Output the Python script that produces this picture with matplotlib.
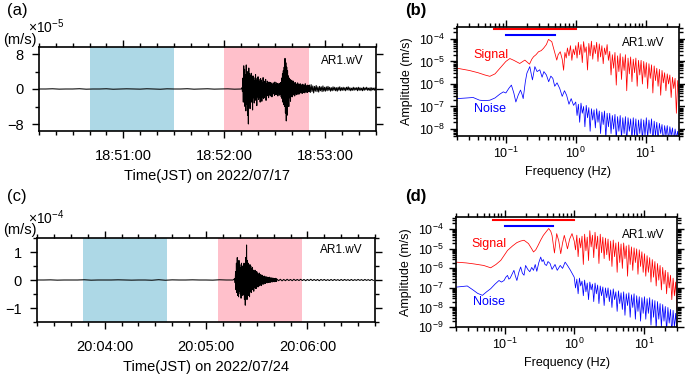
import numpy as np
import matplotlib
matplotlib.use("Agg")
import matplotlib.pyplot as plt
import matplotlib.transforms as mtransforms
from matplotlib.ticker import MultipleLocator, FixedLocator, LogLocator, NullFormatter

plt.rcParams['font.family'] = ['Liberation Sans', 'DejaVu Sans']
plt.rcParams['mathtext.fontset'] = 'custom'
plt.rcParams['mathtext.rm'] = 'Liberation Sans'
plt.rcParams['mathtext.it'] = 'Liberation Sans:italic'

# ---------------- waveform data (velocity) ----------------
# event 1: seconds after 18:50:00, amplitude in 1e-5 m/s
ev1_date = "2022/07/17"
ev1_tick_sec = [60, 120, 180]
ev1_tick_lab = ["18:51:00", "18:52:00", "18:53:00"]
ev1_xlim = (10, 210)
ev1_noise_win = (40, 90)
ev1_signal_win = (120, 170)
ev1_pre_t0, ev1_pre_dt = 10.0, 4.0
ev1_pre = [0.0, 0.0, 0.05, -0.03, 0.0, 0.0, 0.06, -0.04, 0.0, 0.0, 0.05, -0.05, 0.0, 0.04, 0.0, -0.03,
           0.05, 0.0, -0.05, 0.04, 0.0, 0.0, 0.06, -0.04, 0.0, 0.05, -0.03, 0.0, 0.04, -0.04, 0.0]
ev1_burst_t0, ev1_burst_dt = 130.5, 0.25
ev1_burst = [0.3, -0.6, 2.5, -3.0, 5.3, -2.5, 4.5, -4.0, 3.2, -5.0, 5.5, -3.5, 4.0, -6.0, 3.0, -8.0, 4.8, -3.0, 3.5, -4.5,
             3.0, -2.5, 3.6, -3.0, 2.2, -4.8, 3.0, -2.0, 2.6, -3.2, 1.8, -2.6, 3.3, -2.2, 2.0, -3.8, 2.5, -1.8, 2.8, -2.4,
             2.2, -2.0, 1.6, -3.0, 2.4, -1.5, 2.0, -2.8, 1.4, -1.8, 2.6, -2.2, 1.5, -2.0, 1.8, -1.4, 2.2, -2.6, 1.2, -1.6,
             1.8, -1.4, 1.2, -2.0, 1.6, -1.2, 1.0, -1.6, 1.5, -1.1, 1.3, -1.8, 0.9, -1.2, 1.4, -1.0, 1.1, -1.5, 1.6, -1.2,
             1.0, -1.3, 1.4, -1.0, 1.2, -1.6, 0.9, -1.1, 1.3, -1.4, 1.0, -1.2, 1.5, -1.8, 2.5, -2.2, 3.5, -3.0, 4.2, -3.6,
             5.0, -4.0, 7.0, -5.5, 6.0, -7.3, 5.0, -6.0, 4.2, -3.5, 3.0, -4.0, 2.5, -2.0, 2.2, -2.8, 1.8, -1.6, 2.0, -1.8,
             1.6, -1.4, 1.8, -1.2, 1.3, -1.6, 1.5, -1.1, 1.2, -1.3, 1.0, -1.2, 1.4, -0.9, 1.1, -1.2, 0.9, -1.0, 1.2, -0.8,
             1.0, -0.9, 0.8, -1.0, 1.1, -0.7, 0.9, -0.8, 0.7, -0.9, 1.2, -0.6, 0.8, -0.7, 0.6, -0.8, 0.9, -0.6, 0.7, -0.6]
ev1_tail_t0, ev1_tail_dt = 170.5, 0.5
ev1_tail = [0.9, -0.8, 1.0, -0.6, 0.7, -0.9, 0.6, -0.5, 0.8, -0.6, 0.5, -0.7, 0.6, -0.4, 0.5, -0.6, 0.7, -0.5, 0.4, -0.5,
            0.5, -0.4, 0.6, -0.3, 0.4, -0.5, 0.3, -0.4, 0.5, -0.3, 0.4, -0.4, 0.3, -0.5, 0.4, -0.3, 0.5, -0.4, 0.3, -0.3,
            0.4, -0.3, 0.3, -0.4, 0.4, -0.2, 0.5, -0.3, 0.3, -0.4, 0.2, -0.3, 0.4, -0.3, 0.3, -0.2, 0.3, -0.4, 0.4, -0.3,
            0.3, -0.3, 0.2, -0.4, 0.4, -0.3, 0.3, -0.2, 0.4, -0.3, 0.2, -0.3, 0.3, -0.4, 0.3, -0.2, 0.2, -0.3, 0.3, -0.2]

# event 2: seconds after 20:03:00, amplitude in 1e-4 m/s
ev2_date = "2022/07/24"
ev2_tick_sec = [60, 120, 180]
ev2_tick_lab = ["20:04:00", "20:05:00", "20:06:00"]
ev2_xlim = (20, 220)
ev2_noise_win = (47, 97)
ev2_signal_win = (127, 177)
ev2_pre_t0, ev2_pre_dt = 20.0, 4.0
ev2_pre = [0.0, 0.0, 0.005, -0.005, 0.0, 0.0, 0.0, 0.008, -0.006, 0.0, 0.0, 0.0, 0.006, 0.0, -0.005,
           0.0, 0.0, -0.008, 0.01, -0.008, 0.005, 0.0, 0.0, 0.006, 0.0, 0.0, -0.005, 0.008, 0.0, 0.0]
ev2_burst_t0, ev2_burst_dt = 137.0, 0.25
ev2_burst = [0.05, -0.1, 0.3, -0.35, 0.6, -0.45, 0.8, -0.55, 0.5, -0.6, 0.7, -0.4, 0.55, -0.5, 0.45, -0.65, 0.6, -0.4, 0.5, -0.55,
             0.4, -0.5, 0.6, -0.7, 0.5, -0.9, 0.8, -0.6, 1.25, -0.7, 0.7, -0.5, 0.6, -0.55, 0.45, -0.6, 0.55, -0.4, 0.5, -0.45,
             0.4, -0.35, 0.45, -0.3, 0.35, -0.4, 0.3, -0.25, 0.35, -0.3, 0.25, -0.3, 0.3, -0.2, 0.25, -0.25, 0.2, -0.22, 0.25, -0.18,
             0.2, -0.18, 0.15, -0.2, 0.18, -0.14, 0.15, -0.15, 0.12, -0.14, 0.14, -0.1, 0.1, -0.12, 0.12, -0.09, 0.09, -0.1, 0.1, -0.08,
             0.08, -0.09, 0.1, -0.07, 0.07, -0.08, 0.08, -0.06, 0.06, -0.07, 0.07, -0.05, 0.06, -0.06, 0.05, -0.06, 0.06, -0.04, 0.05, -0.05]
ev2_tail_t0, ev2_tail_dt = 162.0, 1.0
ev2_tail = [0.03, -0.025, 0.025, -0.03, 0.02, -0.025, 0.025, -0.02, 0.02, -0.025, 0.025, -0.02, 0.02, -0.02, 0.025, -0.02,
            0.02, -0.025, 0.02, -0.02, 0.025, -0.02, 0.02, -0.02, 0.02, -0.025, 0.02, -0.015, 0.02, -0.02, 0.015, -0.02,
            0.02, -0.02, 0.02, -0.015, 0.015, -0.02, 0.02, -0.02, 0.02, -0.015, 0.015, -0.02, 0.02, -0.02, 0.015, -0.015,
            0.02, -0.015, 0.015, -0.02, 0.02, -0.015, 0.015, -0.02, 0.02, -0.015]

# ---------------- spectra (log10 amplitude in m/s) ----------------
station = "AR1.wV"
signal_band = (0.067, 1.0)
noise_band = (0.1, 0.5)

# event 1, below 1 Hz
sig1_f = [0.020, 0.030, 0.040, 0.050, 0.059, 0.070, 0.085, 0.100, 0.114, 0.130, 0.158, 0.187, 0.218, 0.235, 0.249,
          0.270, 0.293, 0.320, 0.345, 0.380, 0.407, 0.454, 0.500, 0.535, 0.560, 0.600, 0.640, 0.670, 0.700, 0.730,
          0.760, 0.800, 0.840, 0.880, 0.920, 0.960]
sig1_lo = [-5.30, -5.40, -5.50, -5.60, -5.66, -5.55, -5.25, -5.00, -4.87, -4.95, -5.09, -4.94, -5.12, -4.90, -4.79,
           -4.70, -4.57, -4.52, -4.42, -4.25, -4.02, -4.12, -4.60, -4.94, -4.70, -4.57, -4.90, -5.39, -4.60, -4.85,
           -4.40, -4.75, -4.30, -4.95, -4.45, -4.70]
noi1_f = [0.020, 0.028, 0.034, 0.042, 0.050, 0.059, 0.070, 0.082, 0.092, 0.100, 0.110, 0.120, 0.130, 0.139, 0.150,
          0.162, 0.170, 0.177, 0.190, 0.200, 0.220, 0.240, 0.260, 0.280, 0.306, 0.330, 0.350, 0.380, 0.410, 0.440,
          0.470, 0.500, 0.540, 0.590, 0.640, 0.690, 0.740, 0.800, 0.860, 0.930]
noi1_lo = [-6.65, -6.62, -6.60, -6.72, -6.74, -6.72, -6.62, -6.45, -6.35, -6.40, -6.20, -6.05, -6.40, -6.80, -6.50,
           -6.27, -6.45, -6.65, -5.90, -5.52, -5.23, -5.82, -5.23, -5.45, -5.37, -5.70, -5.45, -5.60, -5.90, -5.65,
           -5.75, -6.10, -5.95, -6.20, -6.55, -6.30, -6.50, -6.90, -6.65, -6.95]
# 1-30 Hz, evenly spaced in log frequency
sig1_hi = [-4.30, -4.85, -4.15, -4.70, -4.25, -5.05, -4.12, -4.60, -4.35, -5.38, -4.20, -4.75, -4.10, -4.90, -4.28, -4.65,
           -4.15, -5.00, -4.22, -4.80, -4.30, -5.10, -4.40, -4.70, -4.25, -4.95,
           -4.55, -5.60, -4.70, -5.30, -4.60, -6.05, -4.75, -5.45, -4.65, -5.80, -4.80, -5.40, -4.70, -6.30, -4.85, -5.55,
           -4.80, -5.90, -4.90, -5.50, -4.85, -6.10, -4.95, -5.60, -4.95, -6.00, -5.00, -5.70,
           -5.05, -6.20, -5.10, -5.75, -5.15, -6.40, -5.20, -5.85, -5.30, -6.10, -5.35, -6.50, -5.40, -5.95, -5.50, -6.30,
           -5.55, -6.00, -5.60, -6.60, -5.70, -6.20, -5.75, -7.30, -5.85, -6.40]
noi1_hi = [-6.80, -7.40, -6.90, -7.70, -6.85, -7.30, -7.00, -7.90, -6.95, -7.50, -7.05, -8.10, -7.10, -7.60, -7.15, -7.95,
           -7.10, -7.70, -7.20, -8.20, -7.25, -7.80, -7.20, -8.40, -7.30, -7.90,
           -7.30, -8.20, -7.40, -8.00, -7.35, -8.50, -7.45, -8.10, -7.40, -8.40, -7.50, -8.20, -7.45, -8.60, -7.50, -8.10,
           -7.55, -8.45, -7.50, -8.30, -7.55, -8.60, -7.60, -8.20, -7.55, -8.50, -7.60, -8.30,
           -7.50, -8.40, -7.60, -8.20, -7.55, -8.60, -7.65, -8.30, -7.70, -8.50, -7.75, -8.20, -7.80, -8.60, -7.85, -8.30,
           -7.85, -8.50, -7.90, -8.30, -7.95, -8.60, -8.00, -8.40, -8.10, -8.60]

# event 2, below 1 Hz
sig2_f = [0.020, 0.028, 0.036, 0.050, 0.063, 0.075, 0.088, 0.100, 0.110, 0.130, 0.150, 0.170, 0.190, 0.220, 0.245,
          0.260, 0.280, 0.300, 0.330, 0.360, 0.400, 0.430, 0.460, 0.480, 0.520, 0.560, 0.600, 0.640, 0.680, 0.720,
          0.760, 0.800, 0.860, 0.930]
sig2_lo = [-5.68, -5.72, -5.77, -5.85, -5.97, -5.80, -5.59, -5.30, -5.08, -4.85, -4.68, -4.60, -4.56, -4.73, -5.00,
           -5.16, -5.05, -4.85, -4.55, -4.31, -4.10, -3.96, -4.10, -4.31, -5.21, -4.22, -4.60, -5.25, -4.70, -4.31,
           -4.65, -5.00, -4.50, -4.22]
noi2_f = [0.020, 0.024, 0.029, 0.035, 0.041, 0.048, 0.055, 0.063, 0.073, 0.083, 0.090, 0.098, 0.104, 0.110, 0.115,
          0.120, 0.128, 0.136, 0.143, 0.150, 0.160, 0.170, 0.180, 0.190, 0.200, 0.215, 0.230, 0.245, 0.260, 0.275,
          0.290, 0.310, 0.330, 0.345, 0.360, 0.380, 0.400, 0.420, 0.450, 0.480, 0.530, 0.570, 0.630, 0.680, 0.740,
          0.800, 0.880, 0.950]
noi2_lo = [-6.96, -6.93, -6.90, -7.10, -7.28, -7.38, -7.20, -7.04, -6.80, -6.62, -6.70, -6.62, -6.45, -6.36, -6.55,
           -6.50, -6.30, -6.10, -6.40, -6.62, -6.20, -5.93, -6.25, -6.35, -5.85, -6.05, -6.17, -5.95, -6.10, -5.80,
           -6.15, -5.70, -5.42, -5.65, -5.55, -5.80, -5.85, -5.65, -5.75, -6.05, -5.80, -6.10, -5.85, -6.00, -5.68,
           -5.85, -6.09, -6.30]
sig2_hi = [-4.60, -5.05, -4.30, -5.40, -4.45, -4.95, -4.35, -5.80, -4.25, -5.10, -4.40, -5.60, -4.07, -4.90, -4.30, -5.45,
           -4.15, -5.00, -4.35, -5.75, -4.25, -5.20, -4.40, -5.50, -4.45, -5.30,
           -4.50, -5.60, -4.60, -5.90, -4.55, -5.40, -4.70, -6.20, -4.65, -5.70, -4.75, -6.00, -4.70, -5.50, -4.85, -6.40,
           -4.80, -5.80, -4.90, -6.10, -4.95, -5.70, -5.00, -6.30, -5.05, -5.90, -5.15, -6.20,
           -5.25, -6.40, -5.35, -6.20, -5.45, -6.70, -5.55, -6.45, -5.65, -6.90, -5.75, -6.60, -5.85, -7.10, -5.95, -6.80,
           -6.10, -7.30, -6.20, -7.00, -6.35, -7.60, -6.50, -7.40, -6.70, -8.10]
noi2_hi = [-6.45, -7.00, -6.55, -7.30, -6.50, -6.90, -6.65, -7.40, -6.60, -7.20, -6.75, -7.60, -6.70, -7.10, -6.80, -7.70,
           -6.75, -7.30, -6.85, -7.80, -6.90, -7.40, -6.95, -7.90, -7.00, -7.50,
           -7.00, -7.70, -7.10, -8.00, -7.05, -7.60, -7.20, -8.20, -7.15, -7.80, -7.25, -8.10, -7.20, -8.40, -7.30, -7.90,
           -7.25, -8.50, -7.35, -8.00, -7.30, -8.60, -7.40, -8.20, -7.45, -8.70, -7.50, -8.30,
           -7.45, -8.60, -7.55, -8.30, -7.50, -8.90, -7.60, -8.50, -7.65, -9.10, -7.70, -8.60, -7.80, -9.00, -7.85, -8.70,
           -7.95, -9.20, -8.00, -8.80, -8.10, -9.30, -8.15, -9.00, -8.30, -9.40]

W, H = 685, 374
fig = plt.figure(figsize=(W / 100, H / 100), dpi=100)


def px_axes(l, t, r, b):
    return fig.add_axes([l / W, 1 - b / H, (r - l) / W, (b - t) / H])


def style(ax):
    for s in ax.spines.values():
        s.set_linewidth(1.2)
    ax.tick_params(which='both', direction='out', top=True, right=True, width=1.0)
    ax.tick_params(which='major', length=5)
    ax.tick_params(which='minor', length=3)


def segment(t0, dt, vals):
    return t0 + dt * np.arange(len(vals)), np.array(vals)


def wave_panel(ax, segs, xlim, ylim, noise_win, signal_win, tick_sec, tick_lab, date, ymaj, ymin, lab_y):
    style(ax)
    ax.axvspan(*noise_win, color='lightblue', lw=0)
    ax.axvspan(*signal_win, color='pink', lw=0)
    t = np.concatenate([s[0] for s in segs])
    v = np.concatenate([s[1] for s in segs])
    ax.plot(t, v, color='black', lw=0.75)
    ax.set_xlim(*xlim)
    ax.set_ylim(*ylim)
    ax.xaxis.set_major_locator(FixedLocator(tick_sec))
    ax.set_xticklabels(tick_lab)
    ax.xaxis.set_minor_locator(MultipleLocator(10))
    ax.yaxis.set_major_locator(MultipleLocator(ymaj))
    ax.yaxis.set_minor_locator(MultipleLocator(ymin))
    ax.tick_params(labelsize=10.5, pad=6)
    ax.tick_params(axis='x', pad=8)
    ax.set_xlabel(f"Time(JST) on {date}", fontsize=10.5, labelpad=4)
    ax.text(0.9, lab_y, station, transform=ax.transAxes, ha='center', va='center', fontsize=8.5)


def spec_panel(ax, curves, ylim, bar_y, lab_pos):
    style(ax)
    ax.set_xscale('log')
    ax.set_yscale('log')
    for f, a, c in curves:
        ax.plot(f, 10.0 ** np.array(a), color=c, lw=0.55)
    ax.set_xlim(0.02, 30)
    ax.set_ylim(*ylim)
    ax.xaxis.set_major_locator(LogLocator(base=10, numticks=10))
    ax.xaxis.set_minor_locator(LogLocator(base=10, subs=np.arange(2, 10), numticks=10))
    ax.xaxis.set_minor_formatter(NullFormatter())
    ax.yaxis.set_major_locator(LogLocator(base=10, numticks=12))
    ax.yaxis.set_minor_locator(LogLocator(base=10, subs=np.arange(2, 10), numticks=12))
    ax.yaxis.set_minor_formatter(NullFormatter())
    ax.tick_params(labelsize=9, pad=4)
    ax.tick_params(axis='x', pad=2)
    trans = mtransforms.blended_transform_factory(ax.transData, ax.transAxes)
    ax.plot(signal_band, [bar_y[0]] * 2, color='red', lw=1.5, transform=trans, clip_on=False)
    ax.plot(noise_band, [bar_y[1]] * 2, color='blue', lw=1.5, transform=trans, clip_on=False)
    ax.set_xlabel("Frequency (Hz)", fontsize=9, labelpad=4)
    ax.set_ylabel("Amplitude (m/s)", fontsize=9, labelpad=4)
    (sx, sy), (nx, ny), (ax_, ay) = lab_pos
    ax.text(sx, sy, "Signal", transform=ax.transAxes, color='red', ha='center', va='center', fontsize=9)
    ax.text(nx, ny, "Noise", transform=ax.transAxes, color='blue', ha='center', va='center', fontsize=9)
    ax.text(ax_, ay, station, transform=ax.transAxes, ha='center', va='center', fontsize=8.5)


# (a)
ax_a = px_axes(39, 47, 376, 131)
wave_panel(ax_a,
           [segment(ev1_pre_t0, ev1_pre_dt, ev1_pre),
            segment(ev1_burst_t0, ev1_burst_dt, ev1_burst),
            segment(ev1_tail_t0, ev1_tail_dt, ev1_tail)],
           ev1_xlim, (-9.6, 9.6), ev1_noise_win, ev1_signal_win,
           ev1_tick_sec, ev1_tick_lab, ev1_date, 8, 4, 0.833)

# (c)
ax_c = px_axes(37, 238, 375, 322)
wave_panel(ax_c,
           [segment(ev2_pre_t0, ev2_pre_dt, ev2_pre),
            segment(ev2_burst_t0, ev2_burst_dt, ev2_burst),
            segment(ev2_tail_t0, ev2_tail_dt, ev2_tail)],
           ev2_xlim, (-1.5, 1.5), ev2_noise_win, ev2_signal_win,
           ev2_tick_sec, ev2_tick_lab, ev2_date, 1, 0.5, 0.857)

# (b)
hi_f = np.geomspace(1.0, 30.0, len(sig1_hi))
ax_b = px_axes(457, 27, 679, 136)
spec_panel(ax_b,
           [(np.r_[sig1_f, hi_f], sig1_lo + sig1_hi, 'red'),
            (np.r_[noi1_f, hi_f], noi1_lo + noi1_hi, 'blue')],
           (10 ** -8.31, 10 ** -3.47), (0.985, 0.927),
           ((0.153, 0.743), (0.149, 0.248), (0.838, 0.85)))

# (d)
ax_d = px_axes(456, 217, 677, 327)
spec_panel(ax_d,
           [(np.r_[sig2_f, hi_f], sig2_lo + sig2_hi, 'red'),
            (np.r_[noi2_f, hi_f], noi2_lo + noi2_hi, 'blue')],
           (1e-9, 10 ** -3.37), (0.97, 0.918),
           ((0.151, 0.755), (0.149, 0.227), (0.846, 0.836)))

# units and panel letters
fig.text(28 / W, 1 - 27 / H, r"$\times$10$^{-5}$", fontsize=10, va='center')
fig.text(3 / W, 1 - 40 / H, "(m/s)", fontsize=10.5, va='center')
fig.text(28 / W, 1 - 218 / H, r"$\times$10$^{-4}$", fontsize=10, va='center')
fig.text(3 / W, 1 - 230 / H, "(m/s)", fontsize=10.5, va='center')
fig.text(17 / W, 1 - 10 / H, "(a)", fontsize=12, ha='center', va='center')
fig.text(416 / W, 1 - 10 / H, "(b)", fontsize=12, ha='center', va='center', weight='bold')
fig.text(17 / W, 1 - 196 / H, "(c)", fontsize=12, ha='center', va='center')
fig.text(416 / W, 1 - 196 / H, "(d)", fontsize=12, ha='center', va='center', weight='bold')

fig.savefig("out.png", dpi=100)
